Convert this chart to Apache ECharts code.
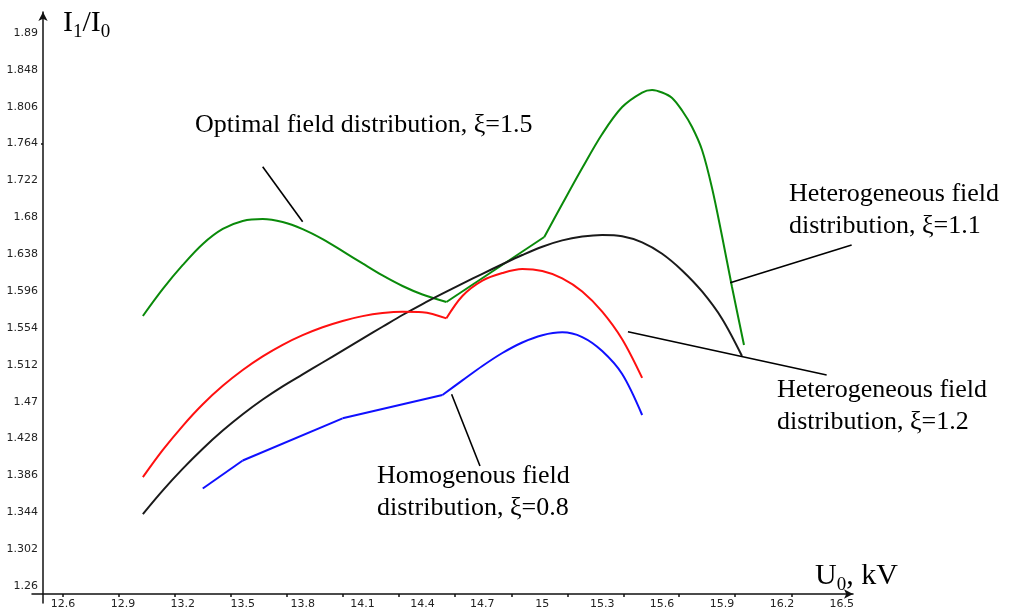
<!DOCTYPE html>
<html><head><meta charset="utf-8">
<script src="https://cdn.jsdelivr.net/npm/echarts@6/dist/echarts.min.js"></script>
<style>html,body{margin:0;padding:0;background:#fff}#c{width:1013px;height:612px}</style>
</head><body><div id="c"></div>
<script>
// ---- axis labels / ticks ----
const xLabels = [12.6, 12.9, 13.2, 13.5, 13.8, 14.1, 14.4, 14.7, 15, 15.3, 15.6, 15.9, 16.2, 16.5];
const xTickMarks = [12.6, 12.88, 13.161, 13.441, 13.722, 14.002, 14.283, 14.563, 14.848, 15.129, 15.409, 15.685, 15.965, 16.25];
const yLabels = [1.26, 1.302, 1.344, 1.386, 1.428, 1.47, 1.512, 1.554, 1.596, 1.638, 1.68, 1.722, 1.764, 1.806, 1.848, 1.89];
const yTickMarks = [1.764];

// ---- Optimal field distribution, xi=1.5 (green) ----
const optimalU = [13.0, 13.1, 13.2, 13.3, 13.4, 13.5, 13.6, 13.7, 13.8, 13.9, 14.0, 14.1, 14.2, 14.3, 14.4, 14.52,
  15.01, 15.1, 15.2, 15.3, 15.4, 15.5, 15.55, 15.6, 15.65, 15.7, 15.75, 15.8, 15.85, 15.9, 15.95, 16.01];
const optimalI = [1.5676, 1.5984, 1.6257, 1.6496, 1.6667, 1.6758, 1.678, 1.6746, 1.6665, 1.6551, 1.6414, 1.6274, 1.6137, 1.6017, 1.592, 1.5835,
  1.6575, 1.6951, 1.7361, 1.7749, 1.8056, 1.8221, 1.825, 1.8221, 1.8159, 1.8016, 1.7828, 1.7566, 1.7134, 1.6587, 1.6006, 1.5345];
const optimalKinks = [14.52, 15.01];

// ---- black curve ----
const blackU = [13.0, 13.1, 13.2, 13.3, 13.4, 13.5, 13.6, 13.7, 13.8, 13.9, 14.0, 14.1, 14.2, 14.3, 14.4, 14.5,
  14.6, 14.7, 14.8, 14.9, 15.0, 15.1, 15.2, 15.3, 15.4, 15.5, 15.6, 15.7, 15.8, 15.9, 16.0];
const blackI = [1.342, 1.369, 1.3937, 1.4164, 1.437, 1.4556, 1.4724, 1.4874, 1.501, 1.5146, 1.5282, 1.5418, 1.5553, 1.5687, 1.5812, 1.593,
  1.6044, 1.6156, 1.6265, 1.637, 1.6465, 1.6537, 1.658, 1.6598, 1.6585, 1.6515, 1.6385, 1.6195, 1.5955, 1.5645, 1.522];
const blackKinks = [];

// ---- red curve ----
const redU = [13.0, 13.1, 13.2, 13.3, 13.4, 13.5, 13.6, 13.7, 13.8, 13.9, 14.0, 14.1, 14.2, 14.3, 14.4, 14.52,
  14.6, 14.7, 14.8, 14.9, 15.0, 15.1, 15.2, 15.3, 15.4, 15.5];
const redI = [1.384, 1.415, 1.4425, 1.467, 1.488, 1.506, 1.5215, 1.5347, 1.5457, 1.5547, 1.5619, 1.5674, 1.5709, 1.5724, 1.5719, 1.5649,
  1.5903, 1.6078, 1.6165, 1.6211, 1.6188, 1.6105, 1.5955, 1.5725, 1.541, 1.497];
const redKinks = [14.52];

// ---- Homogenous field distribution, xi=0.8 (blue) ----
const blueU = [13.3, 13.5, 14.0, 14.5, 14.6, 14.7, 14.8, 14.9, 15.0, 15.1, 15.2, 15.3, 15.4, 15.5];
const blueI = [1.3711, 1.403, 1.451, 1.4776, 1.4942, 1.5106, 1.5254, 1.5374, 1.5457, 1.549, 1.5436, 1.5277, 1.5015, 1.4548];
const blueKinks = [13.5, 14.0, 14.5];

// ---- annotation leader lines (data coordinates) ----
const leaderOptimal = [[13.6, 1.7376], [13.8, 1.675]];
const leaderXi11 = [[15.941, 1.6055], [16.549, 1.6484]];
const leaderXi12 = [[15.429, 1.5497], [16.424, 1.5003]];
const leaderXi08 = [[14.546, 1.4784], [14.688, 1.3967]];

// ---- texts ----
const noteOptimal = ['Optimal field distribution, ξ=1.5'];
const noteXi11 = ['Heterogeneous field', 'distribution, ξ=1.1'];
const noteXi12 = ['Heterogeneous field', 'distribution, ξ=1.2'];
const noteXi08 = ['Homogenous field', 'distribution, ξ=0.8'];

const SERIF = '"Liberation Serif", "Times New Roman", serif';

function pieces(U, I, kinks) {
  const segs = [];
  let cur = [];
  U.forEach((u, k) => {
    cur.push([u, I[k]]);
    if (kinks.includes(u)) { if (cur.length > 1) segs.push(cur); cur = [[u, I[k]]]; }
  });
  if (cur.length > 1) segs.push(cur);
  return segs;
}

const series = [];
function addCurve(U, I, kinks, color) {
  pieces(U, I, kinks).forEach(seg => {
    series.push({
      type: 'line', data: seg, smooth: seg.length > 2 ? 0.33 : false,
      symbol: 'none', showSymbol: false, silent: true, clip: false,
      lineStyle: { color: color, width: 2 }
    });
  });
}
addCurve(optimalU, optimalI, optimalKinks, '#0a8a0a');
addCurve(blackU, blackI, blackKinks, '#1a1a1a');
addCurve(redU, redI, redKinks, '#ff1010');
addCurve(blueU, blueI, blueKinks, '#1010ff');
[leaderOptimal, leaderXi11, leaderXi12, leaderXi08].forEach(l => {
  series.push({ type: 'line', data: l, symbol: 'none', silent: true, clip: false,
    lineStyle: { color: '#000', width: 1.6 } });
});

// ---- text graphics ----
const graphics = [];
function addNote(lines, x, y0, step) {
  lines.forEach((t, k) => graphics.push({
    type: 'text', x: x, y: y0 + k * step, silent: true,
    style: { text: t, font: '26px ' + SERIF, fill: '#000', align: 'left', verticalAlign: 'middle' }
  }));
}
addNote(noteOptimal, 195, 125, 32);
addNote(noteXi11, 789, 194, 32);
addNote(noteXi12, 777, 390, 32);
addNote(noteXi08, 377, 476, 32);

const ctx = document.createElement('canvas').getContext('2d');
function measure(t, size) { ctx.font = size + 'px ' + SERIF; return ctx.measureText(t).width; }
function addSubText(tokens, x, yMain, ySub, sizeMain, sizeSub) {
  let cx = x;
  tokens.forEach(([t, sub]) => {
    const size = sub ? sizeSub : sizeMain;
    graphics.push({ type: 'text', x: cx, y: sub ? ySub : yMain, silent: true,
      style: { text: t, font: size + 'px ' + SERIF, fill: '#000', align: 'left', verticalAlign: 'middle' } });
    cx += measure(t, size);
  });
}
addSubText([['I', 0], ['1', 1], ['/I', 0], ['0', 1]], 63, 23, 32, 30, 19);
addSubText([['U', 0], ['0', 1], [', kV', 0]], 815, 576, 585, 30, 19);

const chart = echarts.init(document.getElementById('c'), null, { renderer: 'canvas' });
const axisLabelStyle = { fontFamily: '"DejaVu Sans", sans-serif', fontSize: 11, color: '#222' };
chart.setOption({
  animation: false,
  backgroundColor: '#fff',
  grid: { left: 32, right: 160, top: 12, bottom: 9, containLabel: false, outerBoundsMode: 'none' },
  xAxis: {
    type: 'value', min: 12.4448, max: 16.5559, offset: -9,
    splitLine: { show: false },
    axisLine: { show: true, lineStyle: { color: '#111', width: 1.5 }, symbol: ['none', 'arrow'], symbolSize: [7, 9] },
    axisTick: { show: true, customValues: xTickMarks, length: 3, lineStyle: { color: '#111', width: 1.5 } },
    axisLabel: Object.assign({ customValues: xLabels, margin: 5, formatter: v => String(v) }, axisLabelStyle)
  },
  yAxis: {
    type: 'value', min: 1.24064, max: 1.91384, offset: -11,
    splitLine: { show: false },
    axisLine: { show: true, lineStyle: { color: '#111', width: 1.5 }, symbol: ['none', 'arrow'], symbolSize: [7, 9] },
    axisTick: { show: true, customValues: yTickMarks, length: 2, lineStyle: { color: '#111', width: 1.5 } },
    axisLabel: Object.assign({ customValues: yLabels, margin: 5, formatter: v => String(v) }, axisLabelStyle)
  },
  series: series,
  graphic: graphics
});
</script></body></html>
